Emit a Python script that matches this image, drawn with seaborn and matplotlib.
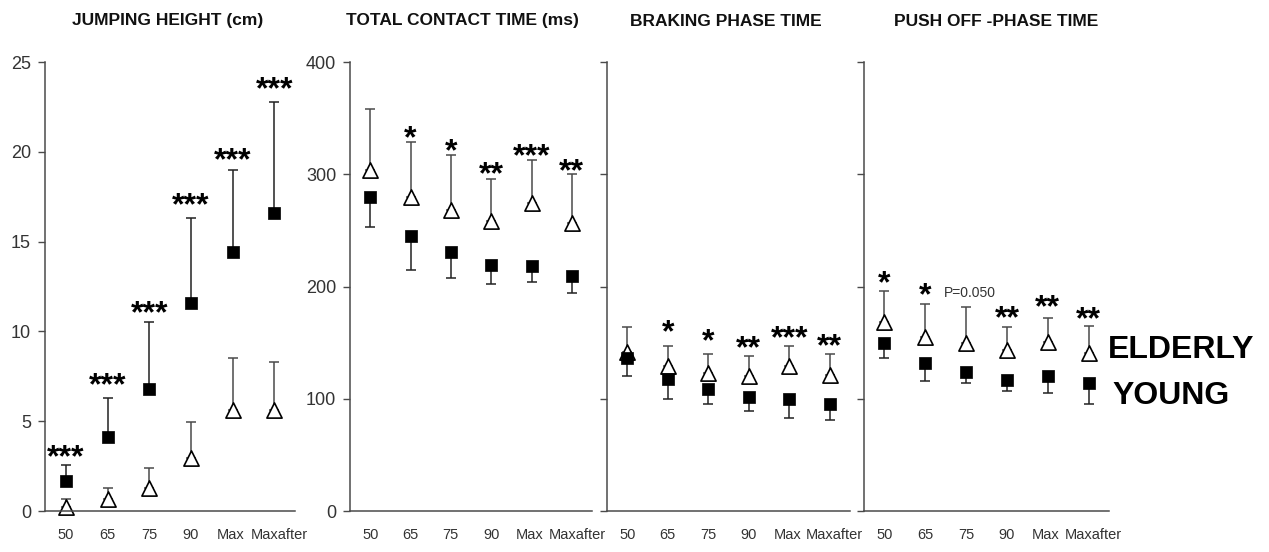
import numpy as np
import pandas as pd
import matplotlib
matplotlib.use("Agg")
import matplotlib.pyplot as plt
import matplotlib.transforms as mtransforms
import seaborn as sns

# ---------------- data ----------------
categories = ["50", "65", "75", "90", "Max", "Maxafter"]

titles = ["JUMPING HEIGHT (cm)", "TOTAL CONTACT TIME (ms)",
          "BRAKING PHASE TIME", "PUSH OFF -PHASE TIME"]

jump_young = [1.65, 4.1, 6.8, 11.6, 14.4, 16.6]
jump_young_err = [0.9, 2.2, 3.7, 4.7, 4.6, 6.2]
jump_elderly = [0.2, 0.65, 1.3, 2.95, 5.65, 5.6]
jump_elderly_err = [0.45, 0.65, 1.1, 2.0, 2.85, 2.7]
jump_stars = ["***", "***", "***", "***", "***", "***"]
jump_star_y = [3.5, 7.5, 11.5, 17.5, 20.0, 24.0]

contact_young = [280, 245, 231, 219, 218, 209]
contact_young_err = [27, 30, 23, 17, 14, 15]
contact_elderly = [304, 280, 268, 258, 274, 257]
contact_elderly_err = [54, 49, 49, 38, 39, 43]
contact_stars = ["", "*", "*", "**", "***", "**"]
contact_star_y = [0, 340, 328, 308, 324, 311]

braking_young = [136, 118, 109, 102, 100, 95]
braking_young_err = [16, 18, 14, 13, 17, 14]
braking_elderly = [142, 129, 123, 120, 129, 121]
braking_elderly_err = [22, 18, 17, 18, 18, 19]
braking_stars = ["", "*", "*", "**", "***", "**"]
braking_star_y = [0, 167, 159, 153, 162, 155]

push_young = [150, 132, 124, 117, 120, 114]
push_young_err = [14, 16, 10, 10, 15, 19]
push_elderly = [168, 155, 150, 143, 151, 141]
push_elderly_err = [28, 29, 32, 21, 21, 24]
push_stars = ["*", "*", "", "**", "**", "**"]
push_star_y = [211, 200, 0, 180, 189, 179]
push_note = "P=0.050"
push_note_y = 195

legend_labels = ["ELDERLY", "YOUNG"]

# ---------------- style ----------------
sns.set_theme(style="white")
plt.rcParams["font.family"] = ["Liberation Sans", "DejaVu Sans"]

W, H = 1269, 552
fig = plt.figure(figsize=(W / 100, H / 100), dpi=100)

AX_COL = "#4a4a4a"
TXT_COL = "#333333"

panels = [
    dict(x0=45, x1=295, ylim=(0, 25), yticks=np.arange(0, 26, 5), ylabels=True,
         young=jump_young, yerr=jump_young_err, young_up=True,
         eld=jump_elderly, eerr=jump_elderly_err,
         stars=jump_stars, star_y=jump_star_y),
    dict(x0=350, x1=592, ylim=(0, 400), yticks=np.arange(0, 401, 100), ylabels=True,
         young=contact_young, yerr=contact_young_err, young_up=False,
         eld=contact_elderly, eerr=contact_elderly_err,
         stars=contact_stars, star_y=contact_star_y),
    dict(x0=607, x1=850, ylim=(0, 400), yticks=np.arange(0, 401, 100), ylabels=False,
         young=braking_young, yerr=braking_young_err, young_up=False,
         eld=braking_elderly, eerr=braking_elderly_err,
         stars=braking_stars, star_y=braking_star_y),
    dict(x0=864, x1=1109, ylim=(0, 400), yticks=np.arange(0, 401, 100), ylabels=False,
         young=push_young, yerr=push_young_err, young_up=False,
         eld=push_elderly, eerr=push_elderly_err,
         stars=push_stars, star_y=push_star_y),
]

y_bot, y_top = 511, 62
title_x = [168, 462, 726, 996]
pos = np.arange(len(categories))
STAR_FS = 23
label_shift_px = [0, 0, 0, 0, -2, 5]

axes = []
for i, p in enumerate(panels):
    ax = fig.add_axes([p["x0"] / W, 1 - y_bot / H, (p["x1"] - p["x0"]) / W, (y_bot - y_top) / H])
    axes.append(ax)
    ax.set_facecolor("white")

    n = len(categories)
    zeros = [0] * n
    # elderly error bars (upward)
    ax.errorbar(pos, p["eld"], yerr=[zeros, p["eerr"]], fmt="none", ecolor=AX_COL,
                elinewidth=1.1, capsize=3.5, capthick=1.1, zorder=1, clip_on=False)
    df_e = pd.DataFrame({"category": categories, "value": p["eld"]})
    sns.scatterplot(data=df_e, x="category", y="value", marker="^", s=120,
                    color="white", edgecolor="black", linewidth=1.2, ax=ax,
                    zorder=2, clip_on=False, legend=False)
    # young error bars
    if p["young_up"]:
        yerr = [zeros, p["yerr"]]
    else:
        yerr = [p["yerr"], zeros]
    ax.errorbar(pos, p["young"], yerr=yerr, fmt="none", ecolor="#222222",
                elinewidth=1.1, capsize=3.5, capthick=1.1, zorder=3, clip_on=False)
    df_y = pd.DataFrame({"category": categories, "value": p["young"]})
    sns.scatterplot(data=df_y, x="category", y="value", marker="s", s=85,
                    color="black", edgecolor="black", linewidth=0.5, ax=ax,
                    zorder=4, clip_on=False, legend=False)

    # significance stars
    for xi, (s, sy) in enumerate(zip(p["stars"], p["star_y"])):
        if s:
            ax.annotate(s, (xi, sy), xytext=(0, -0.56 * STAR_FS), textcoords="offset points",
                        ha="center", va="baseline", fontsize=STAR_FS, fontweight="bold",
                        color="black", annotation_clip=False)

    ax.set_xlim(-0.5, n - 0.5)
    ax.set_ylim(*p["ylim"])
    ax.set_xlabel("")
    ax.set_ylabel("")
    ax.set_xticks(pos)
    ax.set_xticklabels(categories)
    ax.set_xticks(np.arange(-0.5, n, 1.0), minor=True)
    ax.tick_params(axis="x", which="major", length=0, pad=12, labelsize=10.5, labelcolor=TXT_COL)
    ax.tick_params(axis="x", which="minor", length=6, width=1, color=AX_COL, direction="out")
    for lab, dx in zip(ax.get_xticklabels(), label_shift_px):
        if dx:
            lab.set_transform(lab.get_transform() +
                              mtransforms.ScaledTranslation(dx / 100, 0, fig.dpi_scale_trans))
    ax.set_yticks(p["yticks"])
    if p["ylabels"]:
        ax.set_yticklabels([str(int(v)) for v in p["yticks"]])
    else:
        ax.set_yticklabels([])
    ax.tick_params(axis="y", which="major", left=True, length=5, width=1, color=AX_COL,
                   direction="out", pad=5, labelsize=13, labelcolor=TXT_COL)
    for side in ["top", "right"]:
        ax.spines[side].set_visible(False)
    for side in ["left", "bottom"]:
        ax.spines[side].set_color(AX_COL)
        ax.spines[side].set_linewidth(1.1)
    ax.grid(False)

    fig.text(title_x[i] / W, 1 - 21 / H, titles[i], ha="center", va="center",
             fontsize=12.5, fontweight="bold", color="#111111")

# p-value note in last panel
axes[3].annotate(push_note, (2.1, push_note_y), xytext=(0, -0.36 * 10), textcoords="offset points",
                 ha="center", va="baseline", fontsize=10, color=TXT_COL, annotation_clip=False)

# legend text
fig.text(1108 / W, 1 - 358 / H, legend_labels[0], ha="left", va="baseline",
         fontsize=23, fontweight="bold", color="black")
fig.text(1112 / W, 1 - 404 / H, legend_labels[1], ha="left", va="baseline",
         fontsize=23, fontweight="bold", color="black")

fig.savefig("out.png", dpi=100, facecolor="white")
